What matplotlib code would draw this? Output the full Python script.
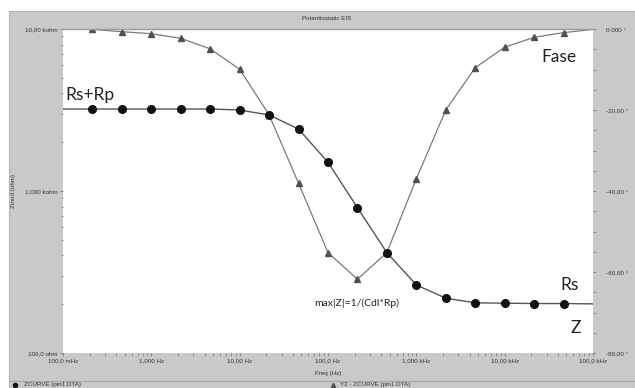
import matplotlib
matplotlib.use("Agg")
import matplotlib.pyplot as plt
from matplotlib.patches import Rectangle
from matplotlib.lines import Line2D
import numpy as np

# ---- data ----
freq = [0.1, 0.2154, 0.4642, 1.0, 2.154, 4.642, 10.0, 21.54, 46.42, 100.0,
        215.4, 464.2, 1000.0, 2154.0, 4642.0, 10000.0, 21540.0, 46420.0, 100000.0]
zmod = [3207, 3207, 3207, 3207, 3207, 3207, 3162, 2946, 2413, 1503,
        789, 416, 263, 218, 204, 203, 202, 202, 201]
phase = [0.0, -0.1, -0.67, -1.16, -2.3, -4.9, -9.95, -21.2, -38.1, -55.2,
         -61.8, -55.2, -37.0, -20.0, -9.55, -4.5, -2.05, -0.9, -0.1]

x_ticks = [0.1, 1, 10, 100, 1000, 10000, 100000]
x_labels = ["100,0 mHz", "1,000 Hz", "10,00 Hz", "100,0 Hz", "1,000 kHz", "10,00 kHz", "100,0 kHz"]
y_ticks = [100, 1000, 10000]
y_labels = ["100,0 ohm", "1,000 kohm", "10,00 kohm"]
p_ticks = [0, -20, -40, -60, -80]
p_labels = ["0,000 °", "-20,00 °", "-40,00 °", "-60,00 °", "-80,00 °"]

W, H = 635, 388
fig = plt.figure(figsize=(W / 100, H / 100), dpi=100, facecolor="white")

def fx(px):
    return px / W

def fy(py):
    return 1 - py / H

grey = "#c9c9c9"
bg = fig.add_axes([fx(9), 0, 1 - fx(9), fy(11)])
bg.set_zorder(0)
bg.set_facecolor(grey)
bg.set_xticks([])
bg.set_yticks([])
for s in bg.spines.values():
    s.set_color("#b5b5b5")
    s.set_linewidth(0.8)
bg.set_xlim(0, 1)
bg.set_ylim(0, 1)
bg.axhline(1 - (381 - 11) / (H - 11), color="#a8a8a8", lw=0.8)

L, R, T, B = 63, 593, 29, 353
ax2 = fig.add_axes([fx(L), fy(B), fx(R - L), (B - T) / H])
ax = ax2.twinx()
ax2.set_zorder(1)
ax.set_zorder(2)
ax.patch.set_visible(False)
ax2.set_facecolor("white")

# phase axis (right)
ax2.plot(freq, phase, color="#7a7a7a", lw=0.9, marker="^", markersize=4,
         markerfacecolor="#505050", markeredgecolor="#505050", markevery=list(range(1, 18)))
ax2.set_xscale("log")
ax2.set_xlim(0.1, 1e5)
ax2.set_ylim(-80, 0)
ax2.yaxis.tick_right()
ax2.yaxis.set_label_position("right")
ax2.set_yticks(p_ticks)
ax2.set_yticklabels(p_labels)
ax2.set_yticks(np.arange(-80, 1, 5), minor=True)

# Z axis (left)
ax.plot(freq, zmod, color="#555555", lw=1.0, marker="o", markersize=5.5,
        markerfacecolor="#111111", markeredgecolor="#111111", markevery=list(range(1, 18)))
ax.set_yscale("log")
ax.set_ylim(100, 10000)
ax.yaxis.tick_left()
ax.yaxis.set_label_position("left")
ax.set_yticks(y_ticks)
ax.set_yticklabels(y_labels)
ax.set_xscale("log")
ax.set_xlim(0.1, 1e5)

ax2.set_xticks(x_ticks)
ax2.set_xticklabels(x_labels)

for a in (ax, ax2):
    for s in a.spines.values():
        s.set_visible(False)
    a.tick_params(which="both", direction="out", color="#777777", labelsize=4.5,
                  labelcolor="#333333", pad=1.5)
    a.tick_params(which="major", length=2.5, width=0.6)
    a.tick_params(which="minor", length=1.8, width=0.5)
ax2.tick_params(axis="y", which="major", pad=7)
ax.spines["top"].set_visible(True)
ax.spines["top"].set_color("#9a9a9a")
ax.spines["top"].set_linewidth(1.0)

for lab in ax.get_yticklabels() + ax2.get_yticklabels() + ax2.get_xticklabels():
    lab.set_fontfamily("Liberation Sans")

ax.set_ylabel("Zmod (ohm)", fontsize=4.5, family="Liberation Sans", color="#333333", labelpad=6)
ax2.set_xlabel("Freq (Hz)", fontsize=4.5, family="Liberation Sans", color="#333333", labelpad=5)

fig.text(fx(327), fy(18), "Potentiostatic EIS", fontsize=4.5, family="Liberation Sans",
         color="#333333", ha="center", va="center")

# annotations
tf = dict(family="Lato", color="#222222", fontsize=12.5)
ax.text(0.004, 0.78, "Rs+Rp", transform=ax.transAxes, va="baseline", ha="left", **tf)
ax.text(0.902, 0.898, "Fase", transform=ax.transAxes, va="baseline", ha="left", **tf)
ax.text(0.938, 0.194, "Rs", transform=ax.transAxes, va="baseline", ha="left", **tf)
ax.text(0.958, 0.062, "Z", transform=ax.transAxes, va="baseline", ha="left", **tf)
ax.text(0.474, 0.145, "max|Z|=1/(Cdl*Rp)", transform=ax.transAxes, va="baseline", ha="left",
        family="Lato", color="#222222", fontsize=7.5)

# legend row
fig.lines.append(Line2D([fx(15)], [fy(384.7)], transform=fig.transFigure, marker="o",
                        markersize=3, color="#111111", lw=0, zorder=5))
fig.text(fx(24), fy(384.7), "ZCURVE (pin1.DTA)", fontsize=4.5, family="Liberation Sans",
         color="#333333", va="center", zorder=5)
fig.lines.append(Line2D([fx(333)], [fy(384.7)], transform=fig.transFigure, marker="^",
                        markersize=3, color="#505050", lw=0, zorder=5))
fig.text(fx(340), fy(384.7), "Y2 - ZCURVE (pin1.DTA)", fontsize=4.5, family="Liberation Sans",
         color="#333333", va="center", zorder=5)

fig.savefig("out.png", dpi=100, facecolor="white")
